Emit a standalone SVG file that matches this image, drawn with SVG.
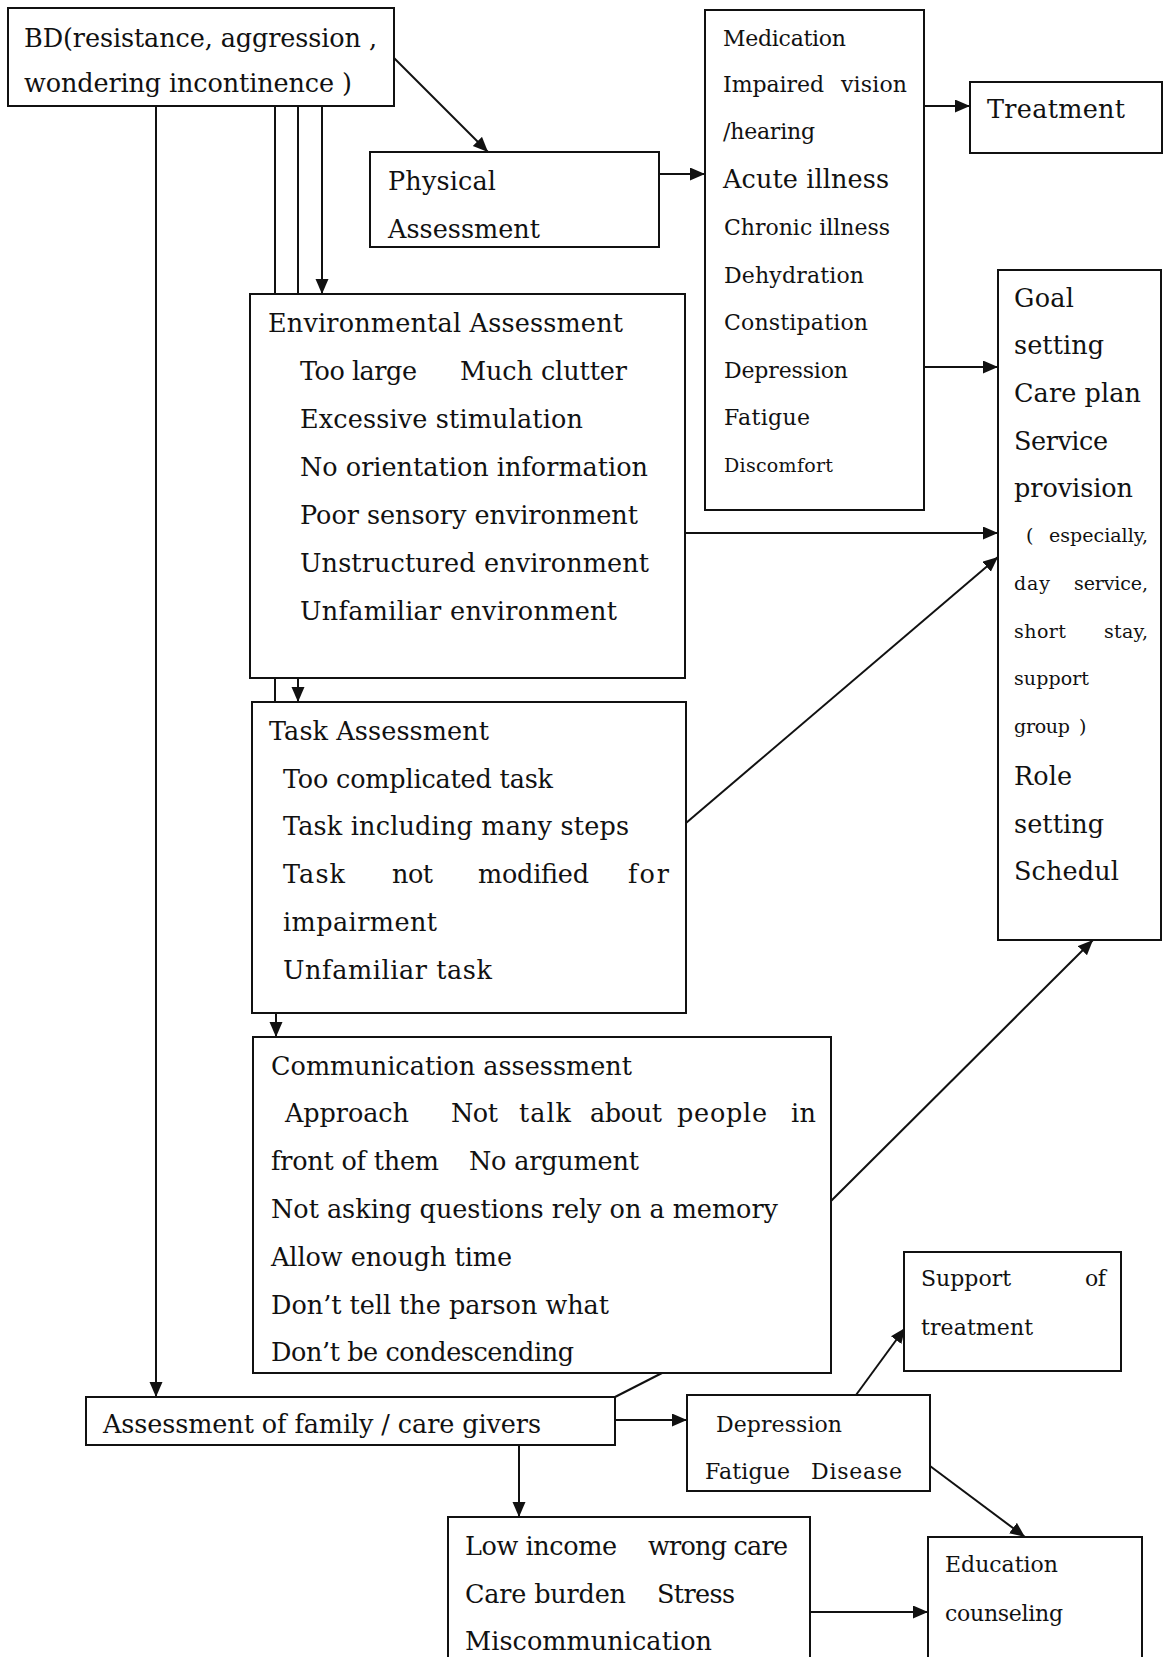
<svg xmlns="http://www.w3.org/2000/svg" width="1163" height="1657" viewBox="0 0 1163 1657">
<style>
.bg{fill:#fff}
.box{fill:#fff;stroke:#111;stroke-width:2}
.ln{fill:none;stroke:#111;stroke-width:2}
.arr{fill:none;stroke:#111;stroke-width:2;marker-end:url(#ah)}
text{font-family:"DejaVu Serif","Liberation Serif",serif;font-size:25.5px;fill:#111}
.s{font-size:22px}
.xs{font-size:19px}
</style>
<defs>
<marker id="ah" markerUnits="userSpaceOnUse" markerWidth="16" markerHeight="14" refX="15" refY="6.5" orient="auto">
<path d="M0,0 L15,6.5 L0,13 z" fill="#111"/>
</marker>
</defs>
<rect class="bg" x="0" y="0" width="1163" height="1657"/>

<g id="connectors">
<line class="arr" x1="394" y1="58" x2="488" y2="152"/>
<line class="arr" x1="322" y1="106" x2="322" y2="294"/>
<line class="ln" x1="298" y1="106" x2="298" y2="294"/>
<line class="arr" x1="298" y1="678" x2="298" y2="702"/>
<line class="ln" x1="275" y1="106" x2="275" y2="294"/>
<line class="ln" x1="275" y1="678" x2="275" y2="702"/>
<line class="arr" x1="276" y1="1013" x2="276" y2="1037"/>
<line class="arr" x1="156" y1="106" x2="156" y2="1397"/>
<line class="arr" x1="659" y1="174" x2="705" y2="174"/>
<line class="arr" x1="924" y1="106" x2="970" y2="106"/>
<line class="arr" x1="924" y1="367" x2="998" y2="367"/>
<line class="arr" x1="685" y1="533" x2="998" y2="533"/>
<line class="arr" x1="686" y1="823" x2="998" y2="557"/>
<line class="arr" x1="831" y1="1201" x2="1093" y2="940"/>
<line class="ln" x1="662" y1="1373" x2="615" y2="1397"/>
<line class="arr" x1="615" y1="1420" x2="687" y2="1420"/>
<line class="arr" x1="519" y1="1445" x2="519" y2="1517"/>
<line class="arr" x1="856" y1="1395" x2="905" y2="1328"/>
<line class="arr" x1="930" y1="1466" x2="1025" y2="1537"/>
<line class="arr" x1="810" y1="1612" x2="928" y2="1612"/>
</g>

<g id="bd">
<rect class="box" x="8" y="8" width="386" height="98"/>
<text x="24" y="47" textLength="353" lengthAdjust="spacing">BD(resistance, aggression ,</text>
<text x="24" y="92" textLength="310" lengthAdjust="spacing">wondering incontinence</text>
<text x="342" y="92">)</text>
</g>

<g id="physical">
<rect class="box" x="370" y="152" width="289" height="95"/>
<text x="388" y="190" textLength="108" lengthAdjust="spacing">Physical</text>
<text x="388" y="238" textLength="152" lengthAdjust="spacing">Assessment</text>
</g>

<g id="medical">
<rect class="box" x="705" y="10" width="219" height="500"/>
<text class="s" x="723" y="46" textLength="123" lengthAdjust="spacing">Medication</text>
<text class="s" x="723" y="92" textLength="101" lengthAdjust="spacing">Impaired</text>
<text class="s" x="841" y="92" textLength="66" lengthAdjust="spacing">vision</text>
<text class="s" x="723" y="139" textLength="92" lengthAdjust="spacing">/hearing</text>
<text x="723" y="188" textLength="166" lengthAdjust="spacing">Acute illness</text>
<text class="s" x="724" y="235" textLength="166" lengthAdjust="spacing">Chronic illness</text>
<text class="s" x="724" y="283" textLength="140" lengthAdjust="spacing">Dehydration</text>
<text class="s" x="724" y="330" textLength="144" lengthAdjust="spacing">Constipation</text>
<text class="s" x="724" y="378" textLength="124" lengthAdjust="spacing">Depression</text>
<text class="s" x="724" y="425" textLength="86" lengthAdjust="spacing">Fatigue</text>
<text class="xs" x="724" y="472" textLength="109" lengthAdjust="spacing">Discomfort</text>
</g>

<g id="treatment">
<rect class="box" x="970" y="82" width="192" height="71"/>
<text x="987" y="118" textLength="138" lengthAdjust="spacing">Treatment</text>
</g>

<g id="goal">
<rect class="box" x="998" y="270" width="163" height="670"/>
<text x="1014" y="307" textLength="60" lengthAdjust="spacing">Goal</text>
<text x="1014" y="354" textLength="90" lengthAdjust="spacing">setting</text>
<text x="1014" y="402" textLength="127" lengthAdjust="spacing">Care plan</text>
<text x="1014" y="450" textLength="94" lengthAdjust="spacing">Service</text>
<text x="1014" y="497" textLength="119" lengthAdjust="spacing">provision</text>
<text class="xs" x="1026" y="542">(</text>
<text class="xs" x="1049" y="542" textLength="99" lengthAdjust="spacing">especially,</text>
<text class="xs" x="1014" y="590" textLength="36" lengthAdjust="spacing">day</text>
<text class="xs" x="1074" y="590" textLength="74" lengthAdjust="spacing">service,</text>
<text class="xs" x="1014" y="638" textLength="52" lengthAdjust="spacing">short</text>
<text class="xs" x="1104" y="638" textLength="44" lengthAdjust="spacing">stay,</text>
<text class="xs" x="1014" y="685" textLength="75" lengthAdjust="spacing">support</text>
<text class="xs" x="1014" y="733" textLength="56" lengthAdjust="spacing">group</text>
<text class="xs" x="1079" y="733">)</text>
<text x="1014" y="785" textLength="58" lengthAdjust="spacing">Role</text>
<text x="1014" y="833" textLength="90" lengthAdjust="spacing">setting</text>
<text x="1014" y="880" textLength="105" lengthAdjust="spacing">Schedul</text>
</g>

<g id="environment">
<rect class="box" x="250" y="294" width="435" height="384"/>
<text x="268" y="332" textLength="355" lengthAdjust="spacing">Environmental Assessment</text>
<text x="300" y="380" textLength="117" lengthAdjust="spacing">Too large</text>
<text x="460" y="380" textLength="167" lengthAdjust="spacing">Much clutter</text>
<text x="300" y="428" textLength="283" lengthAdjust="spacing">Excessive stimulation</text>
<text x="300" y="476" textLength="348" lengthAdjust="spacing">No orientation information</text>
<text x="300" y="524" textLength="338" lengthAdjust="spacing">Poor sensory environment</text>
<text x="300" y="572" textLength="349" lengthAdjust="spacing">Unstructured environment</text>
<text x="300" y="620" textLength="317" lengthAdjust="spacing">Unfamiliar environment</text>
</g>

<g id="task">
<rect class="box" x="252" y="702" width="434" height="311"/>
<text x="269" y="740" textLength="220" lengthAdjust="spacing">Task Assessment</text>
<text x="283" y="788" textLength="270" lengthAdjust="spacing">Too complicated task</text>
<text x="283" y="835" textLength="346" lengthAdjust="spacing">Task including many steps</text>
<text x="283" y="883" textLength="62" lengthAdjust="spacing">Task</text>
<text x="392" y="883" textLength="41" lengthAdjust="spacing">not</text>
<text x="478" y="883" textLength="111" lengthAdjust="spacing">modified</text>
<text x="628" y="883" textLength="41" lengthAdjust="spacing">for</text>
<text x="283" y="931" textLength="154" lengthAdjust="spacing">impairment</text>
<text x="283" y="979" textLength="209" lengthAdjust="spacing">Unfamiliar task</text>
</g>

<g id="communication">
<rect class="box" x="253" y="1037" width="578" height="336"/>
<text x="271" y="1075" textLength="361" lengthAdjust="spacing">Communication assessment</text>
<text x="285" y="1122" textLength="124" lengthAdjust="spacing">Approach</text>
<text x="451" y="1122" textLength="47" lengthAdjust="spacing">Not</text>
<text x="519" y="1122" textLength="52" lengthAdjust="spacing">talk</text>
<text x="590" y="1122" textLength="72" lengthAdjust="spacing">about</text>
<text x="677" y="1122" textLength="90" lengthAdjust="spacing">people</text>
<text x="791" y="1122" textLength="25" lengthAdjust="spacing">in</text>
<text x="271" y="1170" textLength="168" lengthAdjust="spacing">front of them</text>
<text x="469" y="1170" textLength="170" lengthAdjust="spacing">No argument</text>
<text x="271" y="1218" textLength="507" lengthAdjust="spacing">Not asking questions rely on a memory</text>
<text x="271" y="1266" textLength="241" lengthAdjust="spacing">Allow enough time</text>
<text x="271" y="1314" textLength="338" lengthAdjust="spacing">Don’t tell the parson what</text>
<text x="271" y="1361" textLength="303" lengthAdjust="spacing">Don’t be condescending</text>
</g>

<g id="family">
<rect class="box" x="86" y="1397" width="529" height="48"/>
<text x="103" y="1433" textLength="438" lengthAdjust="spacing">Assessment of family / care givers</text>
</g>

<g id="depression">
<rect class="box" x="687" y="1395" width="243" height="96"/>
<text class="s" x="716" y="1432" textLength="126" lengthAdjust="spacing">Depression</text>
<text class="s" x="705" y="1479" textLength="85" lengthAdjust="spacing">Fatigue</text>
<text class="s" x="811" y="1479" textLength="91" lengthAdjust="spacing">Disease</text>
</g>

<g id="support">
<rect class="box" x="904" y="1252" width="217" height="119"/>
<text class="s" x="921" y="1286" textLength="90" lengthAdjust="spacing">Support</text>
<text class="s" x="1085" y="1286" textLength="21" lengthAdjust="spacing">of</text>
<text class="s" x="921" y="1335" textLength="112" lengthAdjust="spacing">treatment</text>
</g>

<g id="education">
<rect class="box" x="928" y="1537" width="214" height="140"/>
<text class="s" x="945" y="1572" textLength="113" lengthAdjust="spacing">Education</text>
<text class="s" x="945" y="1621" textLength="118" lengthAdjust="spacing">counseling</text>
</g>

<g id="burden">
<rect class="box" x="448" y="1517" width="362" height="160"/>
<text x="465" y="1555" textLength="152" lengthAdjust="spacing">Low income</text>
<text x="648" y="1555" textLength="140" lengthAdjust="spacing">wrong care</text>
<text x="465" y="1603" textLength="161" lengthAdjust="spacing">Care burden</text>
<text x="657" y="1603" textLength="78" lengthAdjust="spacing">Stress</text>
<text x="465" y="1650" textLength="247" lengthAdjust="spacing">Miscommunication</text>
</g>
</svg>
